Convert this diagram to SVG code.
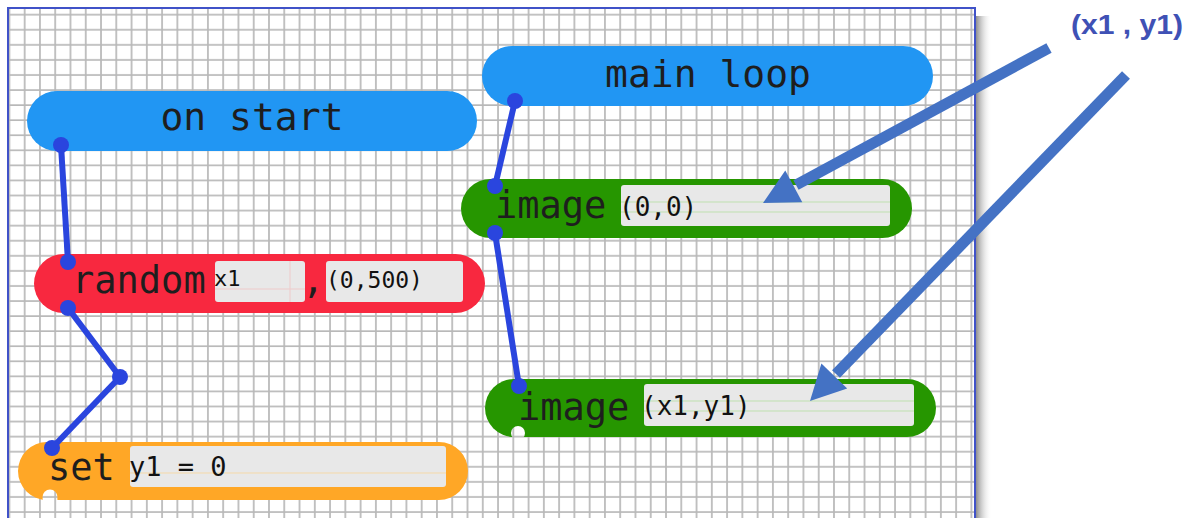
<svg xmlns="http://www.w3.org/2000/svg" width="1200" height="518" viewBox="0 0 1200 518">
<defs>
<style>
.lbl{font-family:"DejaVu Sans Mono","Liberation Mono",monospace;fill:#1e1e1e;font-size:37px}
.big{font-size:38px}
.inp{font-family:"DejaVu Sans Mono","Liberation Mono",monospace;fill:#111;font-size:25px}
.box{fill:#e8e8e8}
.con line{stroke:#2a45de;stroke-width:6}
.con circle{fill:#2a45de}
.ann{stroke:#4472c4;stroke-width:11;fill:none}
</style>
<pattern id="grid" patternUnits="userSpaceOnUse" x="1.77" y="-8" width="15.27" height="15.07">
<rect width="15.27" height="15.07" fill="#fff"/>
<path d="M7.63 0V15.07M0 7.63H15.27" stroke="#b8b8b8" stroke-width="1.7"/>
</pattern>
<linearGradient id="shadow" x1="0" x2="1" y1="0" y2="0">
<stop offset="0" stop-color="#7a7a7a" stop-opacity="0.85"/>
<stop offset="1" stop-color="#ffffff" stop-opacity="0"/>
</linearGradient>
</defs>
<rect width="1200" height="518" fill="#fff"/>
<rect x="976" y="16" width="16" height="502" fill="url(#shadow)"/>
<rect x="8" y="8" width="967" height="520" fill="url(#grid)"/>
<rect x="8" y="8" width="967" height="520" fill="none" stroke="#4052c8" stroke-width="2"/>

<g id="on-start">
<rect x="27" y="91" width="450" height="60" rx="30" fill="#2196f3"/>
<text class="lbl big" x="252" y="130" text-anchor="middle">on start</text>
</g>

<g id="main-loop">
<rect x="482" y="46" width="451" height="60" rx="30" fill="#2196f3"/>
<text class="lbl big" x="708" y="87" text-anchor="middle">main loop</text>
</g>

<g id="random">
<rect x="34" y="254" width="451" height="59" rx="29.5" fill="#f8283f"/>
<text class="lbl" x="72" y="293">random</text>
<rect class="box" x="215" y="261" width="90" height="41" rx="3"/>
<path d="M215 289H305M290 261V302" stroke="#f4b8b8" stroke-width="1" opacity="0.6"/>
<text class="inp" x="214" y="286" style="font-size:22px">x1</text>
<text class="lbl" x="302" y="293">,</text>
<rect class="box" x="326" y="261" width="137" height="41" rx="3"/>
<text class="inp" x="326" y="288" style="font-size:23px">(0,500)</text>
</g>

<g id="set">
<path d="M47 442H439A29 29 0 0 1 439 500H57.5A7.5 7.5 0 0 0 42.5 500H47A29 29 0 0 1 47 442Z" fill="#ffa726"/>
<circle cx="50" cy="497" r="7.5" fill="url(#grid)"/>
<rect class="box" x="130" y="446" width="316" height="41" rx="3"/>
<path d="M130 473H446" stroke="#f5d9a8" stroke-width="1"/>
<text class="lbl" x="48" y="480">set</text>
<text class="inp" x="129" y="476" style="font-size:27px">y1 = 0</text>
</g>

<g id="image-1">
<rect x="461" y="179" width="451" height="59" rx="29.5" fill="#269600"/>
<rect class="box" x="621" y="185" width="269" height="41" rx="3"/>
<path d="M621 202H890M621 212H890" stroke="#bfe0b0" stroke-width="1"/>
<text class="lbl" x="495" y="218">image</text>
<text class="inp" x="619" y="216" style="font-size:26px">(0,0)</text>
</g>

<g id="image-2">
<rect x="485" y="379" width="451" height="58" rx="29" fill="#269600"/>
<circle cx="518" cy="433" r="7" fill="url(#grid)"/>
<rect class="box" x="644" y="384" width="270" height="42" rx="3"/>
<path d="M644 401H914M644 411H914" stroke="#bfe0b0" stroke-width="1"/>
<text class="lbl" x="518" y="420">image</text>
<text class="inp" x="641" y="415" style="font-size:26px">(x1,y1)</text>
</g>

<g id="connectors" class="con">
<line x1="61" y1="145" x2="68" y2="262"/>
<circle cx="61" cy="145" r="8"/>
<circle cx="68" cy="262" r="8"/>
<line x1="68" y1="308" x2="120" y2="377"/>
<line x1="120" y1="377" x2="52" y2="448"/>
<circle cx="68" cy="308" r="8"/>
<circle cx="120" cy="377" r="8"/>
<circle cx="52" cy="448" r="8"/>
<line x1="515" y1="101" x2="495" y2="186"/>
<circle cx="515" cy="101" r="8"/>
<circle cx="495" cy="186" r="8"/>
<line x1="495" y1="233" x2="519" y2="386"/>
<circle cx="495" cy="233" r="8"/>
<circle cx="519" cy="386" r="8"/>
</g>

<g id="annotation">
<text x="1127" y="34" text-anchor="middle" textLength="112" lengthAdjust="spacingAndGlyphs" style="font-family:'Liberation Sans',Arial,sans-serif;font-weight:bold;font-size:28px;fill:#3f51b5">(x1 , y1)</text>
<line class="ann" x1="1049" y1="48" x2="796" y2="185"/>
<polygon points="763,203 785.3,170.5 802.3,202.3" fill="#4472c4"/>
<line class="ann" x1="1126" y1="75" x2="836" y2="374"/>
<polygon points="810,401 821.4,363.4 847.2,388.4" fill="#4472c4"/>
</g>
</svg>
